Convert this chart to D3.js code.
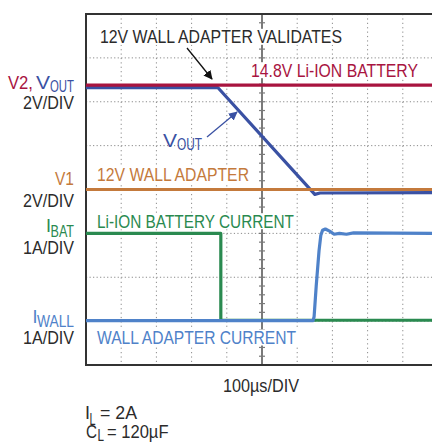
<!DOCTYPE html>
<html><head><meta charset="utf-8">
<script src="https://cdn.jsdelivr.net/npm/d3@7"></script>
<style>html,body{margin:0;padding:0;background:#fff;overflow:hidden}</style>
</head><body>
<script>
// ---- data (time in µs, value in screen divisions from centre) ----
const v2Time   = [0, 1000];
const v2Div    = [2.38, 2.38];
const voutTime = [0, 375, 650, 665, 1000];
const voutDiv  = [2.32, 2.32, -0.11, -0.08, -0.07];
const v1Time   = [0, 1000];
const v1Div    = [0.0, 0.0];
const ibatTime = [0, 383, 383, 1000];
const ibatDiv  = [-1.0, -1.0, -2.98, -2.98];
const iwallTime = [0, 645, 648, 654, 662, 667, 672, 680, 692, 705, 720, 740, 760, 1000];
const iwallDiv  = [-2.99, -2.99, -2.9, -2.2, -1.4, -1.05, -0.93, -0.9, -0.95, -1.02, -1.0, -1.02, -0.99, -1.0];
const xGridUs = [100, 200, 300, 400, 600, 700, 800, 900];
const yGridDiv = [-3, -2, -1, 0, 1, 2, 3];

const W = 432, H = 443;
const svg = d3.select("body").append("svg").attr("width", W).attr("height", H);
const x = d3.scaleLinear().domain([0, 1000]).range([86, 438]);
const y = d3.scaleLinear().domain([-4, 4]).range([365, 14]);
const FONT = "'Liberation Sans Narrow','Arial Narrow','Liberation Sans',sans-serif";
const TXT = "#2b2b2b";

// grid
const g = svg.append("g");
g.selectAll(".hg").data(yGridDiv).enter().append("line")
  .attr("x1", x(0)).attr("x2", x(1000)).attr("y1", d => y(d)).attr("y2", d => y(d))
  .attr("stroke", "#8a8a8a").attr("stroke-width", 1).attr("stroke-dasharray", "1.2,2.32");
g.selectAll(".vg").data(xGridUs).enter().append("line")
  .attr("x1", d => x(d)).attr("x2", d => x(d)).attr("y1", y(4)).attr("y2", y(-4))
  .attr("stroke", "#8a8a8a").attr("stroke-width", 1).attr("stroke-dasharray", "1.2,3.19");
// centre vertical axis with minor ticks
g.append("line").attr("x1", x(500)).attr("x2", x(500)).attr("y1", y(4)).attr("y2", y(-4))
  .attr("stroke", "#7a7a7a").attr("stroke-width", 2);
const minor = d3.range(-4, 4.001, 0.2);
g.selectAll(".mt").data(minor).enter().append("line")
  .attr("x1", x(500) - 3).attr("x2", x(500) + 3).attr("y1", d => y(d)).attr("y2", d => y(d))
  .attr("stroke", "#7a7a7a").attr("stroke-width", 1.2);

// text helper
function txt(parent, s, x0, x1, base, color, size) {
  const t = parent.append("text").attr("x", x0).attr("y", base).text(s)
    .attr("fill", color).attr("font-family", FONT).attr("font-size", size || 18);
  if (x1 != null) t.attr("textLength", x1 - x0).attr("lengthAdjust", "spacingAndGlyphs");
  return t;
}
const C_V2 = "#a8143f", C_VOUT = "#3a51a3", C_V1 = "#c47a3c", C_IBAT = "#2a8a50", C_IWALL = "#4f82c9";

// in-plot labels with white knockout behind them
const lbl = svg.append("g");
const inPlot = [
  txt(lbl, "12V WALL ADAPTER VALIDATES", 100, 342, 43.3, TXT),
  txt(lbl, "14.8V Li-ION BATTERY", 251, 418, 76.7, C_V2),
  txt(lbl, "12V WALL ADAPTER", 97, 249, 180.7, C_V1),
  txt(lbl, "Li-ION BATTERY CURRENT", 97, 294, 227.7, C_IBAT),
  txt(lbl, "WALL ADAPTER CURRENT", 97, 296, 344, C_IWALL)
];
inPlot.forEach(t => {
  const x0 = +t.attr("x"), x1 = x0 + (+t.attr("textLength")), b = +t.attr("y");
  lbl.insert("rect", "text").attr("x", x0 - 2).attr("y", b - 14.5).attr("width", x1 - x0 + 4).attr("height", 16)
    .attr("fill", "#fff");
});

// frame
svg.append("path").attr("d", `M${x(1000)+2},${y(4)}H${x(0)}V${y(-4)}H${x(1000)+2}`)
  .attr("fill", "none").attr("stroke", "#333").attr("stroke-width", 2);

// traces
const line = d3.line().x(d => x(d[0])).y(d => y(d[1]));
function trace(t, v, color, w) {
  svg.append("path").datum(t.map((d, i) => [d, v[i]])).attr("d", line)
    .attr("fill", "none").attr("stroke", color).attr("stroke-width", w)
    .attr("stroke-linejoin", "round");
}
trace(voutTime, voutDiv, C_VOUT, 3.2);
trace(v2Time, v2Div, C_V2, 3.2);
trace(v1Time, v1Div, C_V1, 3.2);
trace(ibatTime, ibatDiv, C_IBAT, 3.2);
trace(iwallTime, iwallDiv, C_IWALL, 3.2);

// arrows
const defs = svg.append("defs");
function marker(id, color) {
  defs.append("marker").attr("id", id).attr("viewBox", "0 0 10 10").attr("refX", 9).attr("refY", 5)
    .attr("markerWidth", 9).attr("markerHeight", 9).attr("markerUnits", "userSpaceOnUse").attr("orient", "auto")
    .append("path").attr("d", "M0,0L10,5L0,10z").attr("fill", color);
}
marker("ab", "#111"); marker("au", C_VOUT);
svg.append("line").attr("x1", 187).attr("y1", 48).attr("x2", 212).attr("y2", 79)
  .attr("stroke", "#111").attr("stroke-width", 1.3).attr("marker-end", "url(#ab)");
svg.append("line").attr("x1", 207).attr("y1", 137).attr("x2", 237).attr("y2", 112)
  .attr("stroke", C_VOUT).attr("stroke-width", 1.3).attr("marker-end", "url(#au)");

// VOUT in-plot label
txt(svg, "V", 163, 177, 146.7, C_VOUT);
txt(svg, "OUT", 177, 202, 150, C_VOUT, 16);

// left labels
txt(svg, "V2,", 8, 33, 88.5, C_V2);
txt(svg, "V", 36, 50, 88.5, C_VOUT);
txt(svg, "OUT", 50, 74, 91.7, C_VOUT, 16);
txt(svg, "2V/DIV", 23, 74, 109, TXT);
txt(svg, "V1", 55, 74, 185, C_V1);
txt(svg, "2V/DIV", 23, 74, 206.7, TXT);
txt(svg, "I", 46, null, 232, C_IBAT);
txt(svg, "BAT", 50.5, 74, 237.3, C_IBAT, 16);
txt(svg, "1A/DIV", 23, 74, 254, TXT);
txt(svg, "I", 32.5, null, 323, C_IWALL);
txt(svg, "WALL", 37, 74, 326.7, C_IWALL, 16);
txt(svg, "1A/DIV", 23, 74, 344, TXT);

// bottom labels
txt(svg, "100µs/DIV", 223, 299, 391.7, TXT);
txt(svg, "I", 85, null, 419.3, TXT);
txt(svg, "L", 89.5, 95.5, 425, TXT, 16);
txt(svg, "= 2A", 100, 137, 419.3, TXT);
txt(svg, "C", 86, 97, 437.5, TXT);
txt(svg, "L", 97.5, 104, 441, TXT, 16);
txt(svg, "= 120µF", 107, 168.5, 437.5, TXT);
</script>
</body></html>
